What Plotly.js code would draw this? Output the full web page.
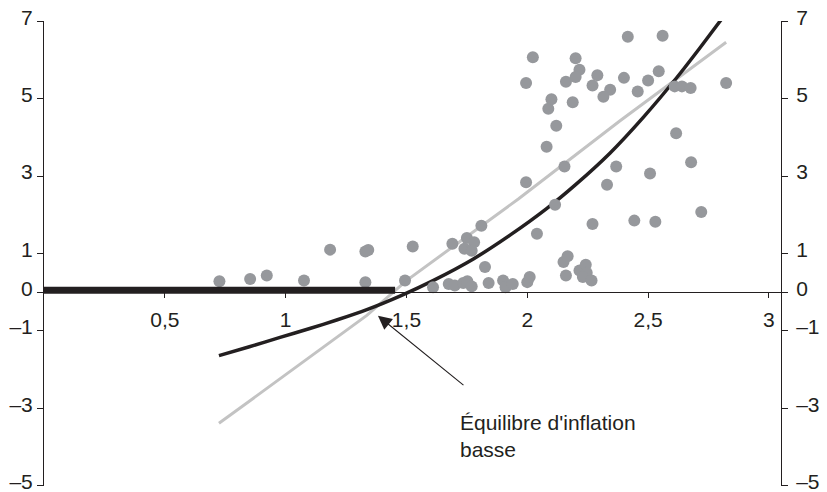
<!DOCTYPE html>
<html>
<head>
<meta charset="utf-8">
<script src="https://cdn.plot.ly/plotly-3.0.1.min.js"></script>
<style>html,body{margin:0;padding:0;background:#fff;}#chart{width:827px;height:492px;}</style>
</head>
<body>
<div id="chart"></div>
<script>
// Scatter observations
const pointsX = [0.726,0.853,0.922,1.076,1.184,1.33,1.342,1.33,1.494,1.526,
  1.61,1.675,1.70,1.735,1.752,1.77,1.84,1.90,1.91,1.94,2.0,2.01,1.825,
  1.69,1.75,1.78,1.74,1.77,1.81,2.04,2.115,1.995,2.154,2.08,2.12,2.087,2.10,2.188,
  1.995,2.023,2.20,2.216,2.20,2.16,2.29,2.27,2.343,2.315,2.40,2.416,2.56,2.457,
  2.50,2.544,2.61,2.64,2.676,2.823,2.616,2.678,2.368,2.508,2.33,2.72,2.27,2.443,
  2.53,2.15,2.167,2.16,2.216,2.242,2.246,2.23,2.266];
const pointsY = [0.28,0.34,0.43,0.30,1.10,1.05,1.09,0.26,0.30,1.18,
  0.13,0.21,0.17,0.24,0.28,0.15,0.24,0.30,0.13,0.21,0.26,0.39,0.65,
  1.25,1.40,1.29,1.12,1.07,1.72,1.51,2.26,2.84,3.25,3.76,4.30,4.74,4.99,4.91,
  5.41,6.07,6.05,5.75,5.56,5.44,5.61,5.34,5.23,5.05,5.54,6.60,6.63,5.19,
  5.47,5.71,5.32,5.32,5.28,5.41,4.11,3.36,3.25,3.07,2.78,2.07,1.76,1.85,
  1.82,0.78,0.93,0.43,0.56,0.71,0.50,0.39,0.30];

// Linear fit (light grey)
const linearX = [0.724, 1.336, 1.50, 1.963, 2.384, 2.823];
const linearY = [-3.39, -0.60, 0.30, 2.41, 4.43, 6.46];

// Convex curve (black)
const curveX = [0.724, 0.85, 0.977, 1.1, 1.211, 1.336, 1.48, 1.61, 1.777, 1.93, 2.08, 2.2, 2.343, 2.48, 2.619, 2.715, 2.82];
const curveY = [-1.64, -1.41, -1.17, -0.94, -0.72, -0.45, -0.08, 0.30, 0.86, 1.48, 2.16, 2.78, 3.60, 4.52, 5.55, 6.32, 7.19];

// Thick horizontal segment
const barX = [0, 1.453];
const barY = [0.05, 0.05];

// Ticks
const xTickVals = [0.5, 1, 1.5, 2, 2.5, 3];
const xTickText = ['0,5', '1', '1,5', '2', '2,5', '3'];
const yTickVals = [-5, -3, -1, 0, 1, 3, 5, 7];
const yTickText = ['–5', '–3', '–1', '0', '1', '3', '5', '7'];

const ink = '#231f20';
const font = {family: 'Liberation Sans, Arial, sans-serif', size: 21, color: ink};

const traces = [
  {x: linearX, y: linearY, mode: 'lines', line: {color: '#c3c3c3', width: 3}, hoverinfo: 'skip'},
  {x: curveX, y: curveY, mode: 'lines', line: {color: ink, width: 3.5, shape: 'spline', smoothing: 0.6}, hoverinfo: 'skip'},
  {x: pointsX, y: pointsY, mode: 'markers', marker: {color: '#96989c', size: 12, line: {width: 0}}},
  {x: barX, y: barY, mode: 'lines', yaxis: 'y2', line: {color: ink, width: 7}, hoverinfo: 'skip'}
];

const yRange = [-5.01, 7.01];

const layout = {
  width: 827, height: 492,
  margin: {l: 44, r: 46, t: 21, b: 6},
  paper_bgcolor: '#fff', plot_bgcolor: '#fff',
  showlegend: false,
  font: font,
  xaxis: {
    range: [0, 3.05], anchor: 'free', position: 5/12,
    showline: true, linecolor: ink, linewidth: 1,
    ticks: 'outside', ticklen: 5, tickcolor: ink, tickwidth: 1,
    tickvals: xTickVals, ticktext: xTickText, ticklabelstandoff: 4,
    showgrid: false, zeroline: false, tickfont: font
  },
  yaxis: {
    range: yRange, anchor: 'x', side: 'left',
    showline: true, linecolor: ink, linewidth: 1,
    ticks: 'outside', ticklen: 6, tickcolor: ink, tickwidth: 1,
    tickvals: yTickVals, ticktext: yTickText, ticklabeloverflow: 'allow', ticklabelshift: -4,
    showgrid: false, zeroline: false, tickfont: font
  },
  yaxis2: {
    range: yRange, overlaying: 'y', anchor: 'x', side: 'right',
    showline: true, linecolor: ink, linewidth: 1,
    ticks: 'outside', ticklen: 6, tickcolor: ink, tickwidth: 1,
    tickvals: yTickVals, ticktext: yTickText, ticklabelstandoff: 4, ticklabeloverflow: 'allow', ticklabelshift: -4,
    showgrid: false, zeroline: false, tickfont: font
  },
  annotations: [
    {x: 1.382, y: -0.61, xref: 'x', yref: 'y', text: ' ', showarrow: true,
     ax: 90, ay: 73, arrowhead: 2, arrowsize: 2.5, arrowwidth: 1.1, arrowcolor: ink},
    {x: 1.714, y: -3.71, xref: 'x', yref: 'y', text: "Équilibre d'inflation<br>basse",
     showarrow: false, xanchor: 'left', yanchor: 'middle', align: 'left', font: font}
  ]
};

Plotly.newPlot('chart', traces, layout, {staticPlot: true, displayModeBar: false});
</script>
</body>
</html>
